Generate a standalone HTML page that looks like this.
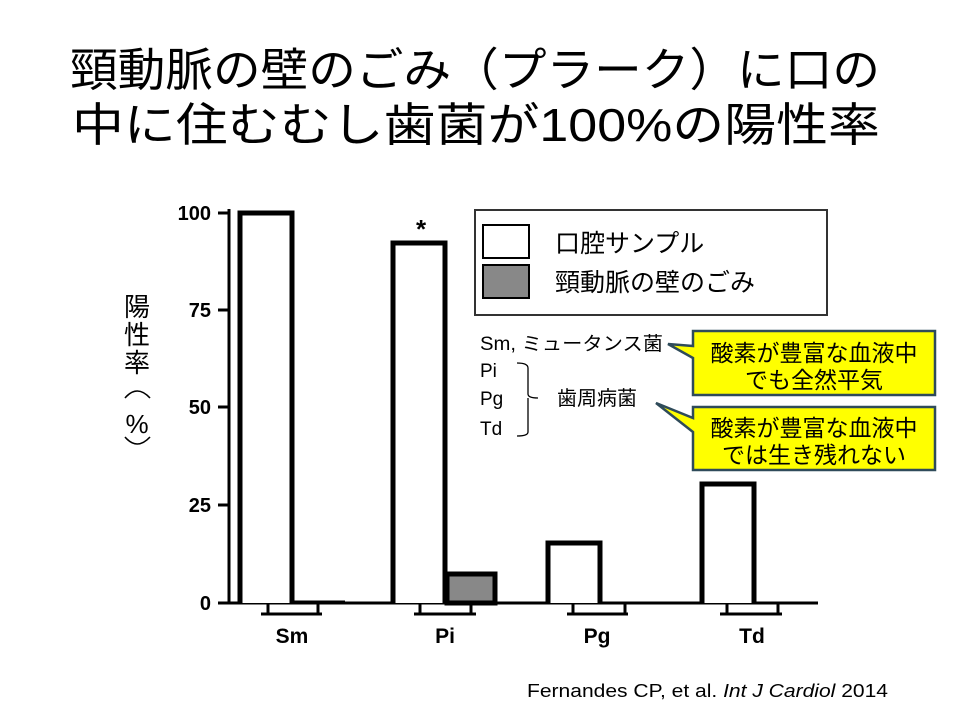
<!DOCTYPE html>
<html><head><meta charset="utf-8"><style>
html,body{margin:0;padding:0;background:#fff;}
svg{display:block;}
</style></head><body>
<svg width="960" height="720" viewBox="0 0 960 720" xmlns="http://www.w3.org/2000/svg" font-family="'Liberation Sans','Noto Sans CJK JP',sans-serif">
<rect width="960" height="720" fill="#fff"/>
<text x="70" y="86" font-size="46" textLength="810" lengthAdjust="spacingAndGlyphs">頸動脈の壁のごみ（プラーク）に口の</text>
<text x="72" y="141" font-size="46" textLength="808" lengthAdjust="spacingAndGlyphs">中に住むむし歯菌が100%の陽性率</text>

<g font-size="26" text-anchor="middle">
<text x="137" y="316">陽</text><text x="137" y="344">性</text><text x="137" y="372">率</text>
<text x="137" y="433">%</text>
</g>
<path d="M125 398 Q137 384 150 398" stroke="#000" stroke-width="1.6" fill="none"/>
<path d="M125 437 Q137 451 150 437" stroke="#000" stroke-width="1.6" fill="none"/>

<g font-weight="bold" font-size="20" text-anchor="end">
<text x="211" y="220">100</text><text x="211" y="317">75</text><text x="211" y="414">50</text><text x="211" y="512">25</text><text x="211" y="610">0</text>
</g>
<g stroke="#000" stroke-width="3" fill="none">
<line x1="229" y1="209" x2="229" y2="604"/>
<line x1="218" y1="213" x2="229" y2="213"/><line x1="218" y1="310" x2="229" y2="310"/><line x1="218" y1="407" x2="229" y2="407"/><line x1="218" y1="505" x2="229" y2="505"/><line x1="218" y1="603" x2="229" y2="603"/>
<line x1="227" y1="603" x2="818" y2="603"/>
</g>
<g stroke="#000" stroke-width="5" fill="#fff">
<path d="M240 603 V213 H292 V603"/>
<path d="M393 603 V243 H445 V603"/>
<path d="M548 603 V543 H600 V603"/>
<path d="M702 603 V484 H754 V603"/>
</g>
<rect x="447" y="574" width="48" height="29" fill="#888" stroke="#000" stroke-width="5"/>
<line x1="292" y1="602" x2="345" y2="602" stroke="#000" stroke-width="3"/>
<g stroke="#000" stroke-width="3" fill="none">
<path d="M268 604 V614 M318 604 V614 M261 614 H322"/>
<path d="M420 604 V614 M471 604 V614 M414 614 H476"/>
<path d="M573 604 V614 M625 604 V614 M567 614 H628"/>
<path d="M727 604 V614 M778 604 V614 M720 614 H782"/>
</g>
<g font-weight="bold" font-size="21" text-anchor="middle">
<text x="292" y="643">Sm</text><text x="445" y="643">Pi</text><text x="597" y="643">Pg</text><text x="752" y="643">Td</text>
<text x="421" y="238" font-size="26">*</text>
</g>

<rect x="475" y="210" width="352" height="105" fill="#fff" stroke="#333" stroke-width="2"/>
<rect x="483" y="225" width="46" height="33" fill="#fff" stroke="#000" stroke-width="2"/>
<rect x="483" y="265" width="46" height="33" fill="#888" stroke="#000" stroke-width="2"/>
<text x="555" y="252" font-size="25">口腔サンプル</text>
<text x="555" y="291" font-size="25">頸動脈の壁のごみ</text>

<g font-size="19">
<text x="480" y="350" textLength="183" lengthAdjust="spacingAndGlyphs">Sm, ミュータンス菌</text>
<text x="480" y="377">Pi</text><text x="480" y="405">Pg</text><text x="480" y="435">Td</text>
<text x="557" y="405" font-size="20">歯周病菌</text>
</g>
<path d="M517 363 Q528 363 528 368 V394 Q528 398 538 398 M528 398 Q528 402 528 406 V432 Q528 436 517 436" stroke="#000" stroke-width="1.3" fill="none"/>

<g stroke="#2f4b5a" stroke-width="2.5" fill="#ffff00">
<path d="M693 331 H935 V395 H693 V358 L668 344 L693 346 Z"/>
<path d="M693 407 H935 V470 H693 V432 L656 403 L693 418 Z"/>
</g>
<g font-size="23" text-anchor="middle">
<text x="814" y="361">酸素が豊富な血液中</text>
<text x="814" y="388">でも全然平気</text>
<text x="814" y="436">酸素が豊富な血液中</text>
<text x="814" y="463">では生き残れない</text>
</g>

<text x="527" y="697" font-size="18" textLength="361" lengthAdjust="spacingAndGlyphs">Fernandes CP, et al. <tspan font-style="italic">Int J Cardiol</tspan> 2014</text>
</svg>
</body></html>
